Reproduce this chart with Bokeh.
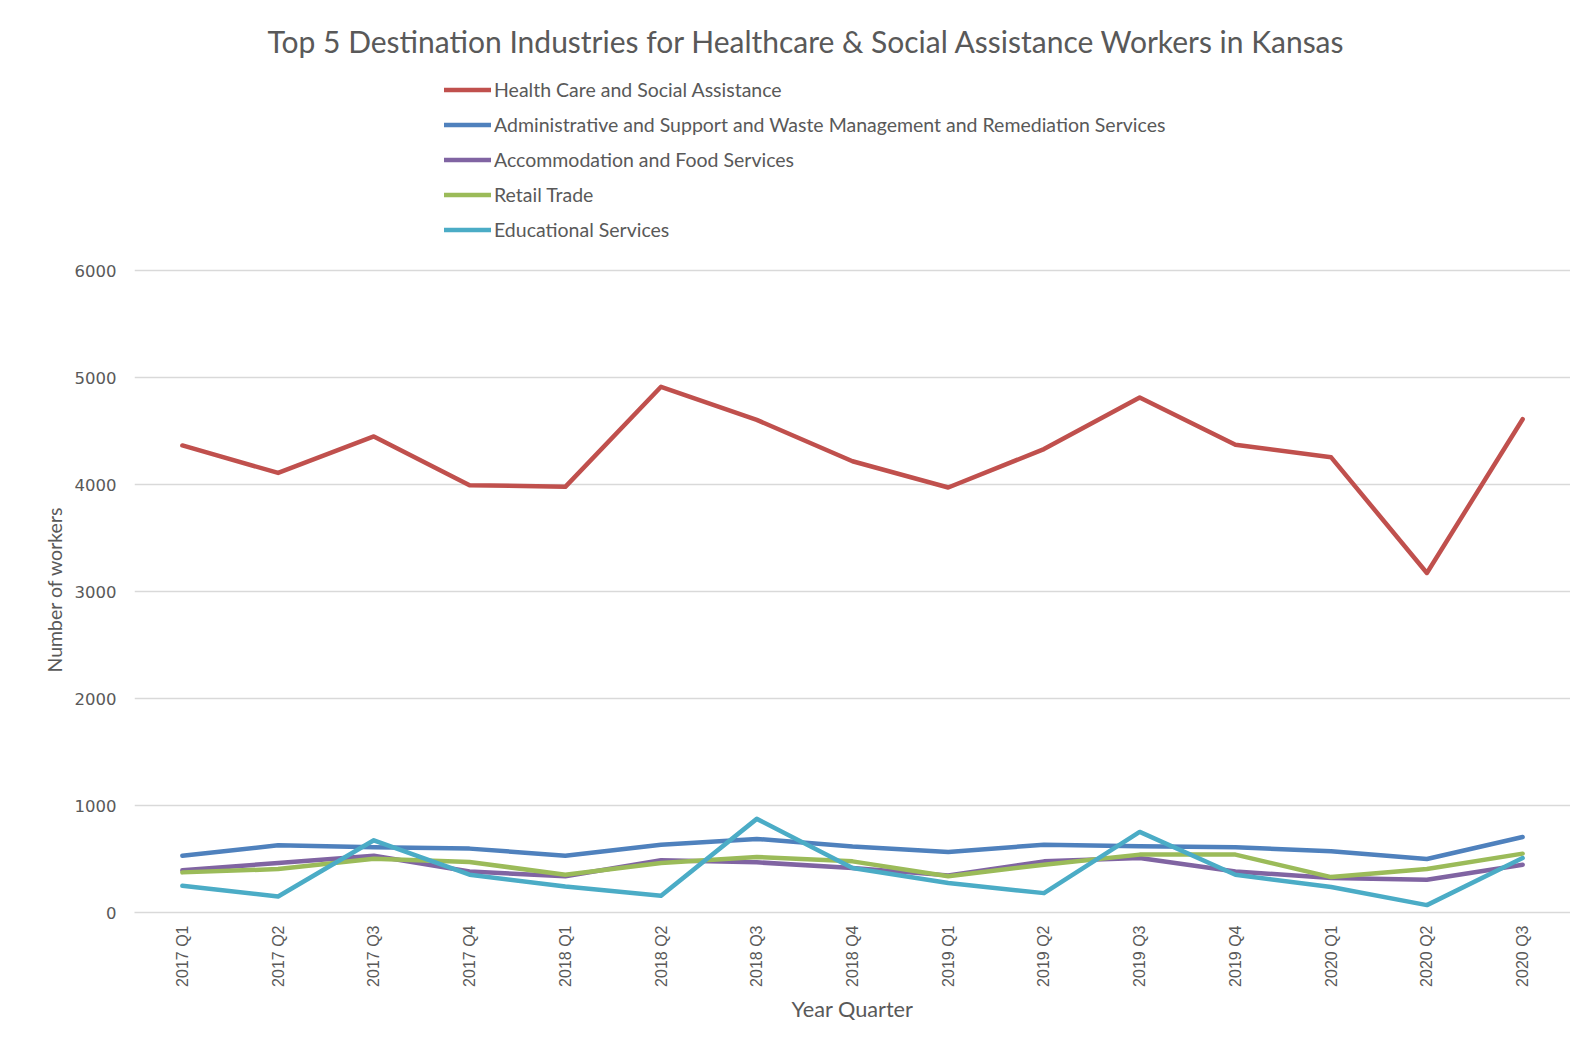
from bokeh.plotting import figure
from bokeh.models import Legend, LegendItem, FixedTicker, Range1d, Title
from bokeh.embed import file_html
from bokeh.resources import INLINE
import math

quarters = ["2017 Q1", "2017 Q2", "2017 Q3", "2017 Q4", "2018 Q1", "2018 Q2", "2018 Q3", "2018 Q4",
            "2019 Q1", "2019 Q2", "2019 Q3", "2019 Q4", "2020 Q1", "2020 Q2", "2020 Q3"]
health = [4365, 4108, 4449, 3994, 3978, 4913, 4604, 4217, 3972, 4331, 4814, 4372, 4254, 3173, 4610]
admin = [531, 628, 609, 597, 531, 634, 688, 617, 566, 634, 619, 609, 572, 500, 706]
accom = [394, 463, 531, 384, 338, 488, 469, 416, 347, 478, 509, 384, 322, 306, 447]
retail = [375, 406, 503, 472, 353, 463, 519, 478, 338, 447, 541, 541, 331, 406, 550]
edu = [250, 150, 675, 353, 244, 156, 875, 416, 275, 181, 753, 353, 238, 69, 509]
y_ticks = [0, 1000, 2000, 3000, 4000, 5000, 6000]

series = [
    ("Health Care and Social Assistance", health, "#c0504d"),
    ("Administrative and Support and Waste Management and Remediation Services", admin, "#4f81bd"),
    ("Accommodation and Food Services", accom, "#8064a2"),
    ("Retail Trade", retail, "#9bbb59"),
    ("Educational Services", edu, "#4bacc6"),
]

xs = list(range(len(quarters)))

# frame: top 60px, bottom 912px; value 6000 sits at 270px
FRAME_TOP, FRAME_BOTTOM, TOP_6000 = 60, 912, 270
y_max = 6000 * (FRAME_BOTTOM - FRAME_TOP) / (FRAME_BOTTOM - TOP_6000)

p = figure(width=1570, height=1035, output_backend="svg", toolbar_location=None,
           x_range=Range1d(-0.5, len(quarters) - 0.5), y_range=Range1d(0, y_max),
           min_border_left=134, min_border_right=0, min_border_top=FRAME_TOP,
           min_border_bottom=1035 - FRAME_BOTTOM,
           title="Top 5 Destination Industries for Healthcare & Social Assistance Workers in Kansas")

p.outline_line_color = None
p.background_fill_color = "white"
p.border_fill_color = "white"

p.title.text_font = "Lato"
p.title.text_font_size = "30px"
p.title.text_font_style = "normal"
p.title.text_color = "#595959"
p.title.align = "left"
p.title.offset = 133
p.title.standoff = 4

items = []
for name, vals, col in series:
    r = p.line(xs, vals, line_color=col, line_width=4.5, line_join="round", line_cap="round")
    items.append(LegendItem(label=name, renderers=[r]))

legend = Legend(items=items, location=(310, 671), orientation="vertical",
                glyph_width=47, glyph_height=23, label_height=23, spacing=12,
                label_standoff=3, padding=0, margin=0,
                border_line_color=None, background_fill_alpha=0,
                label_text_font="Lato", label_text_font_size="19.5px", label_text_color="#595959")
p.add_layout(legend, "center")

p.xgrid.grid_line_color = None
p.ygrid.grid_line_color = "#d9d9d9"
p.ygrid.grid_line_width = 1.5

p.xaxis.ticker = FixedTicker(ticks=xs)
p.xaxis.major_label_overrides = {i: q for i, q in enumerate(quarters)}
p.xaxis.major_label_orientation = math.pi / 2
p.xaxis.major_label_text_font = "Liberation Sans"
p.xaxis.major_label_text_font_size = "16px"
p.xaxis.major_label_text_color = "#595959"
p.xaxis.major_label_standoff = 7
p.xaxis.axis_line_color = "#d9d9d9"
p.xaxis.axis_line_width = 1.5
p.xaxis.major_tick_line_color = None
p.xaxis.minor_tick_line_color = None
p.xaxis.axis_label = "Year Quarter"
p.xaxis.axis_label_text_font = "Lato"
p.xaxis.axis_label_text_font_size = "21.7px"
p.xaxis.axis_label_text_font_style = "normal"
p.xaxis.axis_label_text_color = "#595959"
p.xaxis.axis_label_standoff = 6

p.yaxis.ticker = FixedTicker(ticks=y_ticks)
p.yaxis.major_label_text_font = "DejaVu Sans"
p.yaxis.major_label_text_font_size = "16.5px"
p.yaxis.major_label_text_color = "#595959"
p.yaxis.major_label_standoff = 12
p.yaxis.axis_line_color = None
p.yaxis.major_tick_line_color = None
p.yaxis.minor_tick_line_color = None

# y-axis title, centred on the 0..6000 span rather than the whole frame
y_title = Title(text="Number of workers", align="left", offset=240, standoff=12,
                text_font="Lato", text_font_size="19.5px", text_font_style="normal",
                text_color="#595959")
p.add_layout(y_title, "left")

open("out.html", "w").write(file_html(p, INLINE))
